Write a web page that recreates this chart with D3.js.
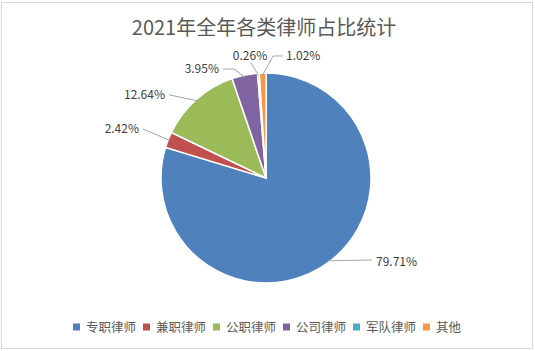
<!DOCTYPE html>
<html>
<head>
<meta charset="utf-8">
<script src="https://cdn.jsdelivr.net/npm/d3@7"></script>
<style>
  body { margin: 0; background: #fff; }
  text { font-family: "Microsoft YaHei", "Noto Sans CJK SC", sans-serif; }
</style>
</head>
<body>
<div id="chart"></div>
<script>
// chart data
var categories = ["专职律师", "兼职律师", "公职律师", "公司律师", "军队律师", "其他"];
var shares = [79.71, 2.42, 12.64, 3.95, 0.26, 1.02];
var labels = ["79.71%", "2.42%", "12.64%", "3.95%", "0.26%", "1.02%"];
var colors = ["#4F81BD", "#C0504D", "#9BBB59", "#8064A2", "#4BACC6", "#F79646"];

// label placement (layout only): text anchor point + elbow of the leader line
var labelLayout = [
    { x: 376, y: 262, anchor: "start", elbow: null },
    { x: 139, y: 129, anchor: "end", elbow: [143, 129] },
    { x: 165, y: 95, anchor: "end", elbow: [170, 95] },
    { x: 219, y: 69, anchor: "end", elbow: [234, 69] },
    { x: 250, y: 56, anchor: "middle", elbow: [251, 63] },
    { x: 286, y: 56, anchor: "start", elbow: [273, 56] }
];

var width = 535, height = 351;
var cx = 266, cy = 178, radius = 105;

var svg = d3.select("#chart")
    .append("svg")
    .attr("width", width)
    .attr("height", height);

// chart border
svg.append("rect")
    .attr("x", 1.5)
    .attr("y", 2.5)
    .attr("width", 531)
    .attr("height", 346)
    .attr("fill", "#fff")
    .attr("stroke", "#D9D9D9");

// title
svg.append("text")
    .attr("x", 264)
    .attr("y", 35)
    .attr("text-anchor", "middle")
    .attr("font-size", 20)
    .attr("fill", "#595959")
    .text("2021年全年各类律师占比统计");

var data = categories.map(function (c, i) {
    return { name: c, value: shares[i], label: labels[i], color: colors[i], layout: labelLayout[i] };
});

var pie = d3.pie()
    .sort(null)
    .value(function (d) { return d.value; });

var arc = d3.arc()
    .innerRadius(0)
    .outerRadius(radius);

var g = svg.append("g")
    .attr("transform", "translate(" + cx + "," + cy + ")");

var arcs = pie(data);

g.selectAll("path")
    .data(arcs)
    .enter()
    .append("path")
    .attr("d", arc)
    .attr("fill", function (d) { return d.data.color; })
    .attr("stroke", "#fff")
    .attr("stroke-width", 1.5);

// leader lines
svg.append("g")
    .selectAll("polyline")
    .data(arcs)
    .enter()
    .append("polyline")
    .attr("fill", "none")
    .attr("stroke", "#A6A6A6")
    .attr("stroke-width", 1)
    .attr("points", function (d) {
        var a = (d.startAngle + d.endAngle) / 2;
        var px = cx + Math.sin(a) * (radius - 2);
        var py = cy - Math.cos(a) * (radius - 2);
        var L = d.data.layout;
        var pts = [[px, py]];
        if (L.elbow) {
            pts.push(L.elbow);
            if (L.anchor !== "middle") pts.push([L.anchor === "end" ? L.x + 4 : L.x - 3, L.y]);
        } else {
            pts.push([L.x - 4, L.y - 2]);
        }
        return pts.map(function (p) { return p.join(","); }).join(" ");
    });

// data labels
svg.append("g")
    .selectAll("text")
    .data(arcs)
    .enter()
    .append("text")
    .attr("x", function (d) { return d.data.layout.x; })
    .attr("y", function (d) { return d.data.layout.y; })
    .attr("dy", "0.35em")
    .attr("text-anchor", function (d) { return d.data.layout.anchor; })
    .attr("font-size", 12)
    .attr("fill", "#404040")
    .text(function (d) { return d.data.label; });

// legend
var legend = d3.scaleBand()
    .domain(categories)
    .range([73, 493]);

var item = svg.append("g")
    .selectAll("g")
    .data(data)
    .enter()
    .append("g")
    .attr("transform", function (d) { return "translate(" + legend(d.name) + ",327)"; });

item.append("rect")
    .attr("x", 0)
    .attr("y", -3.5)
    .attr("width", 7)
    .attr("height", 7)
    .attr("fill", function (d) { return d.color; });

item.append("text")
    .attr("x", 13)
    .attr("y", 0)
    .attr("dy", "0.36em")
    .attr("font-size", 12.5)
    .attr("fill", "#595959")
    .text(function (d) { return d.name; });
</script>
</body>
</html>
